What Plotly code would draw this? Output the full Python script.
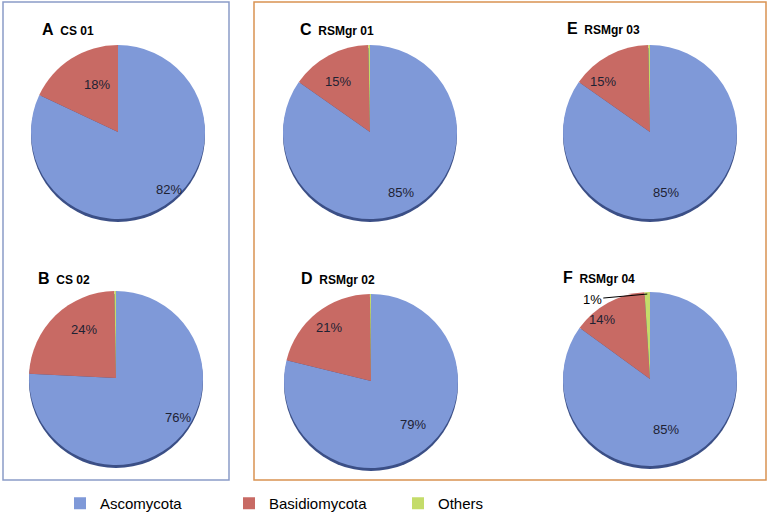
import math
import plotly.graph_objects as go

W, H = 768, 512

labels = ["Ascomycota", "Basidiomycota", "Others"]
panels = ["A", "B", "C", "D", "E", "F"]
samples = ["CS 01", "CS 02", "RSMgr 01", "RSMgr 02", "RSMgr 03", "RSMgr 04"]
ascomycota = [82, 76, 85, 79, 85, 85]
basidiomycota = [18, 24, 15, 21, 15, 14]
others = [0, 0.3, 0.3, 0.2, 0.3, 1]
shown_pct = [["82%", "18%", ""], ["76%", "24%", ""], ["85%", "15%", ""],
             ["79%", "21%", ""], ["85%", "15%", ""], ["85%", "14%", "1%"]]

colors = ["#7f99d8", "#c86a64", "#c4dc6a"]

# pie centres (px from top-left) and radius
centers = [(118, 132), (116, 378), (370, 132), (371, 381), (650, 132), (650, 379)]
R = 87
title_pos = [(40, 29), (36, 278), (298, 29), (299, 278), (565, 28), (561, 277)]
label_font = dict(family="Liberation Sans, Arial", size=13, color="#1e2233")

fig = go.Figure()
for i in range(6):
    cx, cy = centers[i]
    # soft dark rim under each pie (bevel shadow)
    fig.add_trace(go.Pie(
        values=[1], labels=["shadow"], sort=False, textinfo="none", hoverinfo="skip",
        marker=dict(colors=["#3b4f86"], line=dict(width=0)), showlegend=False,
        domain=dict(x=[(cx - R) / W, (cx + R) / W], y=[1 - (cy + R + 3) / H, 1 - (cy - R + 3) / H]),
    ))
    vals = [ascomycota[i], basidiomycota[i], others[i]]
    fig.add_trace(go.Pie(
        labels=labels, values=vals, sort=False, direction="clockwise", rotation=0,
        textinfo="none",
        marker=dict(colors=colors, line=dict(width=0)),
        domain=dict(x=[(cx - R) / W, (cx + R) / W], y=[1 - (cy + R) / H, 1 - (cy - R) / H]),
        showlegend=(i == 0), hoverinfo="label+percent",
    ))
    # percentage labels at each slice's mid-angle (derived from the values)
    total = sum(vals)
    cum = 0
    for j, v in enumerate(vals):
        mid = (cum + v / 2) / total * 2 * math.pi
        cum += v
        if not shown_pct[i][j] or j == 2:
            continue
        rr = 0.78 * R
        px = cx + rr * math.sin(mid)
        py = cy - rr * math.cos(mid)
        fig.add_annotation(x=px / W, y=1 - py / H, xref="paper", yref="paper",
                           text=shown_pct[i][j], showarrow=False, font=label_font)
    tx, ty = title_pos[i]
    fig.add_annotation(
        x=tx / W, y=1 - ty / H, xref="paper", yref="paper", xanchor="left", yanchor="middle",
        showarrow=False,
        text=f"<b><span style='font-size:16px'>{panels[i]}</span>  {samples[i]}</b>",
        font=dict(family="Liberation Sans, Arial", size=12, color="#000"),
    )

# 1% label with leader line for panel F (points to the thin "Others" slice)
cxF, cyF = centers[5]
valsF = [ascomycota[5], basidiomycota[5], others[5]]
midF = (sum(valsF) - others[5] / 2) / sum(valsF) * 2 * math.pi
tipx = cxF + R * math.sin(midF)
tipy = cyF - R * math.cos(midF) + 2
fig.add_annotation(x=tipx / W, y=1 - tipy / H, ax=-55, ay=5, axref="pixel", ayref="pixel",
                   xref="paper", yref="paper", text=shown_pct[5][2], showarrow=True, arrowhead=0,
                   arrowwidth=1, arrowcolor="#000", font=dict(family="Liberation Sans, Arial", size=13, color="#000"))

fig.add_shape(type="rect", xref="paper", yref="paper", x0=3 / W, x1=229 / W, y0=1 - 480 / H, y1=1 - 2 / H,
              line=dict(color="#8a9cc8", width=1.5))
fig.add_shape(type="rect", xref="paper", yref="paper", x0=254 / W, x1=766 / W, y0=1 - 480 / H, y1=1 - 2 / H,
              line=dict(color="#d99352", width=1.5))

fig.update_layout(
    width=W, height=H, margin=dict(l=0, r=0, t=0, b=0, autoexpand=False),
    paper_bgcolor="white", plot_bgcolor="white",
    legend=dict(orientation="h", x=60 / W, y=-8 / H, xanchor="left", yanchor="bottom",
                entrywidth=124, entrywidthmode="pixels", bgcolor="rgba(0,0,0,0)",
                font=dict(family="Liberation Sans, Arial", size=15, color="#000")),
)

fig.write_html("out.html", config={"displayModeBar": False},
               post_script="document.body.style.margin='0';")
